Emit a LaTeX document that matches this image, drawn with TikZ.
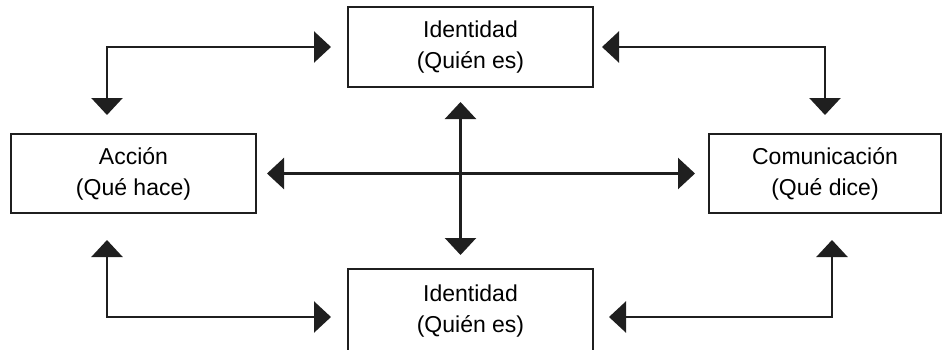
\documentclass[tikz,border=0pt]{standalone}
\usepackage{fontspec}
\setmainfont{Liberation Sans}
\usetikzlibrary{arrows.meta}

\begin{document}
\begin{tikzpicture}[x=1pt,y=-1pt]
\tikzset{caja/.style={draw=black!88, line width=2pt, inner sep=0pt, align=center, font=\fontsize{23}{31}\selectfont},
flecha/.style={{Triangle[length=17pt,width=31pt]}-{Triangle[length=17pt,width=31pt]}, draw=black!88, line width=2.4pt}}
\useasboundingbox (0,0) rectangle (943,349);
\clip (0,0) rectangle (943,349);
\node[caja, minimum width=245pt, minimum height=80pt] (ID) at (470.5,47) {Identidad\\(Quién es)};
\node[caja, minimum width=245pt, minimum height=79pt] (AC) at (133.5,173.5) {Acción\\(Qué hace)};
\node[caja, minimum width=232pt, minimum height=79pt] (CO) at (825,173.5) {Comunicación\\(Qué dice)};
\node[caja, minimum width=245pt, minimum height=96pt, text depth=16pt] (IB) at (470.5,317) {Identidad\\(Quién es)};
\draw[flecha, shorten <=18pt, shorten >=16pt] (AC.north -| 107,0) |- (ID.west);
\draw[flecha, shorten <=8pt, shorten >=18pt] (ID.east) -| (CO.north -| 825,0);
\draw[flecha, shorten <=10pt, shorten >=13pt] (AC.east) -- (CO.west);
\draw[flecha, shorten <=14pt, shorten >=13pt] ([xshift=-10pt]ID.south) -- ([xshift=-10pt]IB.north);
\draw[flecha, shorten <=26pt, shorten >=16pt] (AC.south -| 107,0) |- (IB.west);
\draw[flecha, shorten <=15pt, shorten >=26pt] (IB.east) -| (CO.south -| 832,0);
\end{tikzpicture}
\end{document}
